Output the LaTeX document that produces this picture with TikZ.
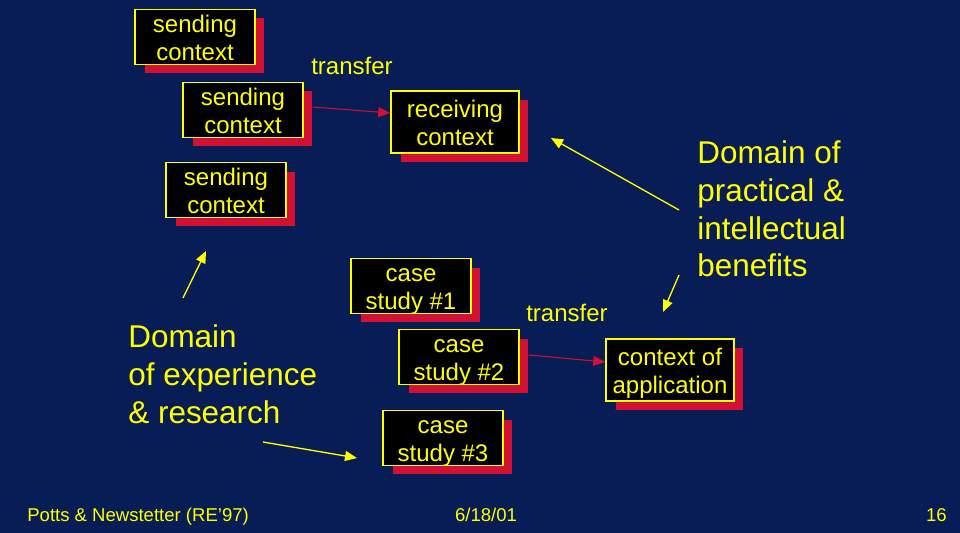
\documentclass[tikz,border=0pt]{standalone}
\usepackage{fontspec}
\setmainfont{Liberation Sans}
\usetikzlibrary{arrows.meta, calc, shadows}
\definecolor{SlideNavy}{HTML}{081C55}
\definecolor{SlideYellow}{HTML}{FFFF00}
\definecolor{ShadowRed}{HTML}{D21034}
\newcommand\boxline[1]{\raisebox{-0.9pt}[12pt][3pt]{#1}}

\begin{document}
\begin{tikzpicture}[
  x=0.02cm, y=-0.02cm,
  ctx/.style={draw=SlideYellow, line width=0.9pt, fill=black, text=SlideYellow, align=center, inner sep=0pt, minimum width=2.4cm, minimum height=1.1cm, font=\fontsize{13.66}{15.93}\selectfont,
    drop shadow={opacity=1, fill=ShadowRed, shadow xshift=0.19cm, shadow yshift=-0.18cm}},
  wide/.style={ctx, minimum width=2.56cm, minimum height=1.25cm},
  xferlabel/.style={text=SlideYellow, font=\fontsize{13.66}{15.93}\selectfont, inner sep=0pt, anchor=base},
  domaintext/.style={text=SlideYellow, font=\fontsize{17.9}{21.6}\selectfont, align=left, inner sep=0pt, anchor=north west},
  foot/.style={text=SlideYellow, font=\fontsize{10.55}{13}\selectfont, inner sep=0pt},
  transfer/.style={-{Triangle[length=0.24cm, width=0.2cm]}, draw=ShadowRed, line width=0.6pt},
  pointer/.style={-{Triangle[length=0.24cm, width=0.2cm]}, draw=SlideYellow, line width=0.75pt}
]
  \fill[SlideNavy] (0,0) rectangle (960,533);
  \useasboundingbox (0,0) rectangle (960,533);

  % sending side
  \node[ctx] (send1) at (195,37) {\boxline{sending}\\\boxline{context}};
  \node[ctx] (send2) at (243,110) {\boxline{sending}\\\boxline{context}};
  \node[ctx] (send3) at (226,190) {\boxline{sending}\\\boxline{context}};
  \node[wide] (receive) at (455,122) {\boxline{receiving}\\\boxline{context}};

  \draw[transfer] ($(send2.east)+(9,-3)$) -- ($(receive.west)+(0,-9)$);
  \node[xferlabel] (xfer1) at (352,75) {transfer};

  % case studies
  \node[ctx] (case1) at (411,286) {\boxline{case}\\\boxline{study \#1}};
  \node[ctx] (case2) at (459,357) {\boxline{case}\\\boxline{study \#2}};
  \node[ctx] (case3) at (443,438) {\boxline{case}\\\boxline{study \#3}};
  \node[wide] (apply) at (670,370) {\boxline{context of}\\\boxline{application}};

  \draw[transfer] ($(case2.east)+(9,-2)$) -- ($(apply.west)+(0,-8)$);
  \node[xferlabel] (xfer2) at (567,322) {transfer};

  % domains
  \node[domaintext] (benefits) at (697,140) {Domain of\\practical \&\\intellectual\\benefits};
  \node[domaintext] (experience) at (128,324) {Domain\\of experience\\\& research};

  \coordinate (expA) at (183,298);
  \coordinate (expAtip) at (206,251);
  \coordinate (expB) at (263,442);
  \coordinate (expBtip) at (357,458);
  \coordinate (benA) at (679,210);
  \coordinate (benAtip) at (551,138);
  \coordinate (benB) at (679,275);
  \coordinate (benBtip) at (663,312);

  \draw[pointer] (expA) -- (expAtip);
  \draw[pointer] (expB) -- (expBtip);
  \draw[pointer] (benA) -- (benAtip);
  \draw[pointer] (benB) -- (benBtip);

  % footer
  \node[foot, anchor=base west] (author) at (27,521) {Potts \& Newstetter (RE'97)};
  \node[foot, anchor=base] (date) at (486,521) {6/18/01};
  \node[foot, anchor=base east] (page) at (947,521) {16};
\end{tikzpicture}
\end{document}
